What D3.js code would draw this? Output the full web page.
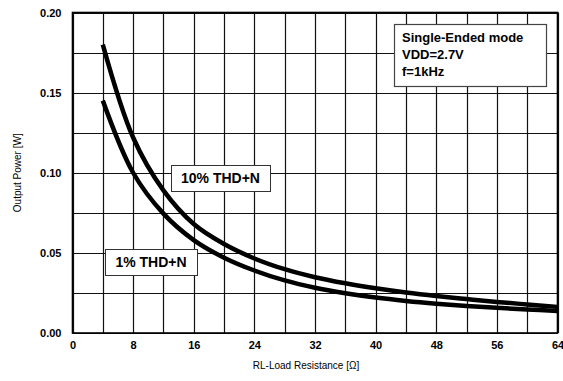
<!DOCTYPE html>
<html>
<head>
<meta charset="utf-8">
<script src="https://cdn.jsdelivr.net/npm/d3@7"></script>
<style>
  body { margin: 0; background: #fff; }
  text { font-family: Arial, "Liberation Sans", sans-serif; fill: #000; }
</style>
</head>
<body>
<script>
// load resistance (ohm) and output power (W)
var resistance = [4, 8, 12, 16, 20, 24, 28, 32, 36, 40, 44, 48, 52, 56, 60, 64];
var thd10 = [0.180, 0.122, 0.089, 0.068, 0.0555, 0.0465, 0.0398, 0.0348, 0.0310, 0.0279, 0.0253, 0.0231, 0.0212, 0.0194, 0.0178, 0.0163];
var thd1  = [0.145, 0.100, 0.0745, 0.0580, 0.0470, 0.0390, 0.0328, 0.0282, 0.0248, 0.0221, 0.0200, 0.0183, 0.0169, 0.0157, 0.0147, 0.0138];

var xTicks = [0, 8, 16, 24, 32, 40, 48, 56, 64];
var yTicks = [0, 0.05, 0.10, 0.15, 0.20];
var xGrid = d3.range(0, 65, 4);
var yGrid = d3.range(0, 0.2001, 0.025);

var width = 563, height = 381;
var plotL = 72.5, plotR = 557.5, plotT = 12.5, plotB = 333;

var x = d3.scaleLinear().domain([0, 64]).range([plotL, plotR]);
var y = d3.scaleLinear().domain([0, 0.2]).range([plotB, plotT]);

var svg = d3.select("body").append("svg")
    .attr("width", width)
    .attr("height", height);

// grid
svg.append("g").selectAll("line").data(xGrid).enter().append("line")
    .attr("x1", function(d) { return Math.round(x(d)) + 0.5; })
    .attr("x2", function(d) { return Math.round(x(d)) + 0.5; })
    .attr("y1", plotT).attr("y2", plotB)
    .attr("stroke", "#111").attr("stroke-width", 1.2);

svg.append("g").selectAll("line").data(yGrid).enter().append("line")
    .attr("y1", function(d) { return Math.round(y(d)) + 0.5; })
    .attr("y2", function(d) { return Math.round(y(d)) + 0.5; })
    .attr("x1", plotL).attr("x2", plotR)
    .attr("stroke", "#111").attr("stroke-width", 1.2);

svg.append("rect")
    .attr("x", plotL).attr("y", plotT)
    .attr("width", plotR - plotL).attr("height", plotB - plotT)
    .attr("fill", "none").attr("stroke", "#000").attr("stroke-width", 1.6);

// axes (labels only)
var xAxis = svg.append("g")
    .attr("transform", "translate(0," + plotB + ")")
    .call(d3.axisBottom(x).tickValues(xTicks).tickSize(0).tickPadding(8).tickFormat(d3.format("d")));
var yAxis = svg.append("g")
    .attr("transform", "translate(" + plotL + ",0)")
    .call(d3.axisLeft(y).tickValues(yTicks).tickSize(0).tickPadding(11).tickFormat(d3.format(".2f")));
[xAxis, yAxis].forEach(function(a) {
  a.select(".domain").remove();
  a.selectAll("text")
      .style("font-family", "Arial, 'Liberation Sans', sans-serif")
      .style("font-size", "11px")
      .style("font-weight", "bold")
      .attr("fill", "#000");
});

// curves
var line = d3.line()
    .x(function(d) { return x(d[0]); })
    .y(function(d) { return y(d[1]); })
    .curve(d3.curveCatmullRom.alpha(0.5));

[thd10, thd1].forEach(function(s) {
  svg.append("path")
      .datum(d3.zip(resistance, s))
      .attr("fill", "none")
      .attr("stroke", "#000")
      .attr("stroke-width", 4.5)
      .attr("d", line);
});

// curve labels
function label(x0, y0, w, h, txt) {
  svg.append("rect")
      .attr("x", x0 + 0.5).attr("y", y0 + 0.5)
      .attr("width", w).attr("height", h)
      .attr("fill", "#fff").attr("stroke", "#333").attr("stroke-width", 1);
  svg.append("text")
      .attr("x", x0 + w / 2).attr("y", y0 + h / 2 + 5)
      .attr("text-anchor", "middle")
      .style("font-size", "14px").style("font-weight", "bold")
      .text(txt);
}
label(171, 165, 99, 26, "10% THD+N");
label(105, 249, 92, 26, "1% THD+N");

// conditions box
svg.append("rect")
    .attr("x", 394.5).attr("y", 24.5)
    .attr("width", 152).attr("height", 62)
    .attr("fill", "#fff").attr("stroke", "#444").attr("stroke-width", 1.2);
["Single-Ended mode", "VDD=2.7V", "f=1kHz"].forEach(function(t, i) {
  svg.append("text")
      .attr("x", 402).attr("y", 42 + i * 17)
      .style("font-size", "13px").style("font-weight", "bold")
      .text(t);
});

// axis titles
svg.append("text")
    .attr("x", (plotL + plotR) / 2 - 9).attr("y", 369)
    .attr("text-anchor", "middle")
    .style("font-size", "10px")
    .text("RL-Load Resistance [Ω]");

svg.append("text")
    .attr("transform", "translate(21," + ((plotT + plotB) / 2) + ") rotate(-90)")
    .attr("text-anchor", "middle")
    .style("font-size", "10px")
    .text("Output Power [W]");
</script>
</body>
</html>
